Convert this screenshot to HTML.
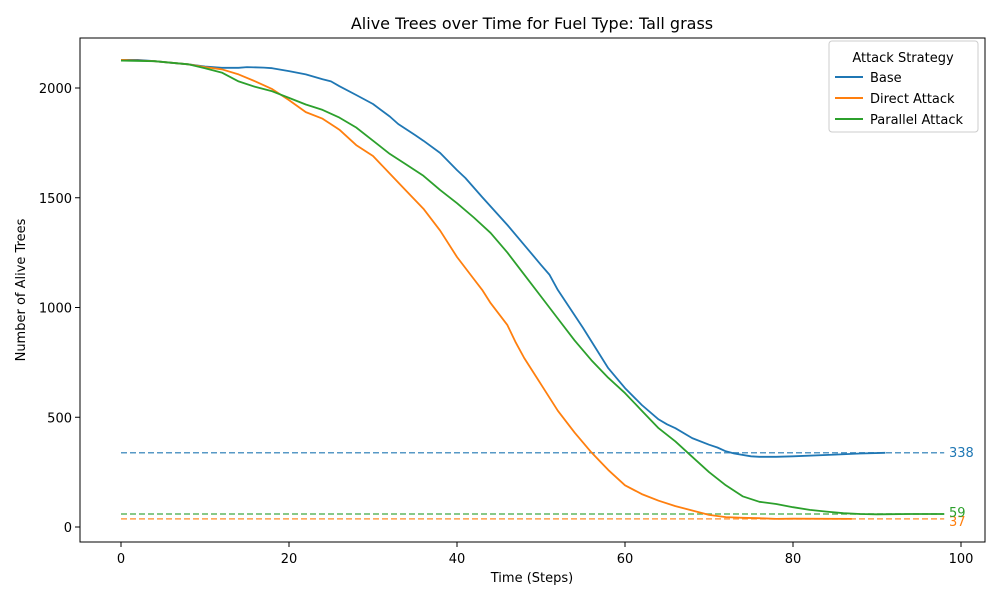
<!DOCTYPE html>
<html><head><meta charset="utf-8"><style>
body{margin:0;background:#fff}
svg{font-family:"DejaVu Sans","Liberation Sans",sans-serif}
</style></head><body>
<svg id="chart" width="1000" height="600" xmlns="http://www.w3.org/2000/svg">
<rect width="1000" height="600" fill="#fff"/>
<text x="532" y="29" text-anchor="middle" font-size="16">Alive Trees over Time for Fuel Type: Tall grass</text>
<text x="532" y="582" text-anchor="middle" font-size="13">Time (Steps)</text>
<text x="25" y="290" text-anchor="middle" font-size="13" transform="rotate(-90 25 290)">Number of Alive Trees</text>
<g id="plot"></g>
<rect x="80" y="38" width="905" height="504" fill="none" stroke="#000" stroke-width="1"/>
<g>
<rect x="829" y="41" width="149" height="91" fill="#fff" fill-opacity="0.8" stroke="#ccc" rx="3"/>
<text x="903" y="62" text-anchor="middle" font-size="13">Attack Strategy</text>
<g><line x1="835" y1="77" x2="863" y2="77" stroke="#1f77b4" stroke-width="2"/><text x="870" y="82" font-size="13">Base</text></g>
<g><line x1="835" y1="98" x2="863" y2="98" stroke="#ff7f0e" stroke-width="2"/><text x="870" y="103" font-size="13">Direct Attack</text></g>
<g><line x1="835" y1="119" x2="863" y2="119" stroke="#2ca02c" stroke-width="2"/><text x="870" y="124" font-size="13">Parallel Attack</text></g>
</g>
</svg>
<script>
const xTicks=[0,20,40,60,80,100];
const yTicks=[0,500,1000,1500,2000];
const baseSteps=[0,2,4,6,8,10,12,14,15,17,18,20,22,24,25,26,28,30,32,33,35,36,38,40,41,43,46,48,50,51,52,55,58,60,62,64,65,66,68,70,71,72,73,75,76,78,80,85,88,91];
const baseVals=[2128,2128,2122,2115,2108,2098,2092,2092,2095,2093,2090,2077,2062,2040,2030,2008,1968,1927,1870,1836,1786,1760,1704,1626,1590,1503,1376,1285,1194,1150,1080,907,724,633,556,490,468,450,405,375,362,345,335,322,320,320,322,330,335,338];
const directSteps=[0,4,8,10,12,14,16,18,20,22,24,26,28,30,32,34,36,38,40,42,43,44,46,47,48,50,52,54,56,58,60,62,64,66,68,70,72,74,76,78,80,87];
const directVals=[2128,2122,2108,2095,2085,2062,2030,1995,1945,1890,1860,1810,1740,1690,1610,1530,1450,1350,1230,1130,1080,1020,920,840,770,650,530,430,340,260,190,150,120,95,75,55,45,42,40,37,38,37];
const parallelSteps=[0,4,8,10,12,14,16,18,20,22,24,26,28,30,32,34,36,38,40,42,44,46,48,50,52,54,56,58,60,62,64,66,68,70,72,74,76,78,80,82,84,86,88,90,94,98];
const parallelVals=[2125,2122,2108,2090,2070,2030,2005,1985,1955,1925,1900,1865,1820,1760,1700,1650,1600,1535,1475,1410,1340,1250,1150,1050,950,850,760,680,610,530,450,390,320,250,190,140,115,105,90,78,70,63,59,58,59,59];
const refNames=['base','direct','parallel'];
const refVals=[338,37,59];
const refLabelDy=[4,7,3];
const colors=['#1f77b4','#ff7f0e','#2ca02c'];
const X=v=>121+(v-0)*8.4;
const Y=v=>527-v*0.2195;
const NS='http://www.w3.org/2000/svg';
const svg=document.getElementById('chart');
const plot=document.getElementById('plot');
function mk(tag,attrs,parent){const e=document.createElementNS(NS,tag);for(const k in attrs)e.setAttribute(k,attrs[k]);(parent||plot).appendChild(e);return e;}
xTicks.forEach(t=>{
 const g=mk('g',{});
 
 
 mk('line',{x1:X(t),x2:X(t),y1:542,y2:547,stroke:'#000'},g);
 const tx=mk('text',{x:X(t),y:563,'text-anchor':'middle','font-size':13},g);tx.textContent=t;
});
yTicks.forEach(t=>{
 const g=mk('g',{});
 
 
 mk('line',{x1:75,x2:80,y1:Y(t),y2:Y(t),stroke:'#000'},g);
 const tx=mk('text',{x:72,y:Y(t)+5,'text-anchor':'end','font-size':13},g);tx.textContent=t;
});
refVals.forEach((v,i)=>{
 const l=mk('line',{x1:X(0),x2:X(98),y1:Y(v),y2:Y(v),stroke:colors[i],'stroke-width':1.5,'stroke-dasharray':'6,3',opacity:0.75});
 
 
 const t=mk('text',{x:949,y:Y(v)+refLabelDy[i],fill:colors[i],'font-size':13});
 
 
 t.textContent=v;
});
[[baseSteps,baseVals,'base'],[directSteps,directVals,'direct'],[parallelSteps,parallelVals,'parallel']].forEach((s,i)=>{
 const d=s[0].map((x,j)=>(j?'L':'M')+X(x).toFixed(1)+','+Y(s[1][j]).toFixed(1)).join('');
 const p=mk('path',{d:d,fill:'none',stroke:colors[i],'stroke-width':1.8,'stroke-linejoin':'round'});
 
 
});
</script>
</body></html>
